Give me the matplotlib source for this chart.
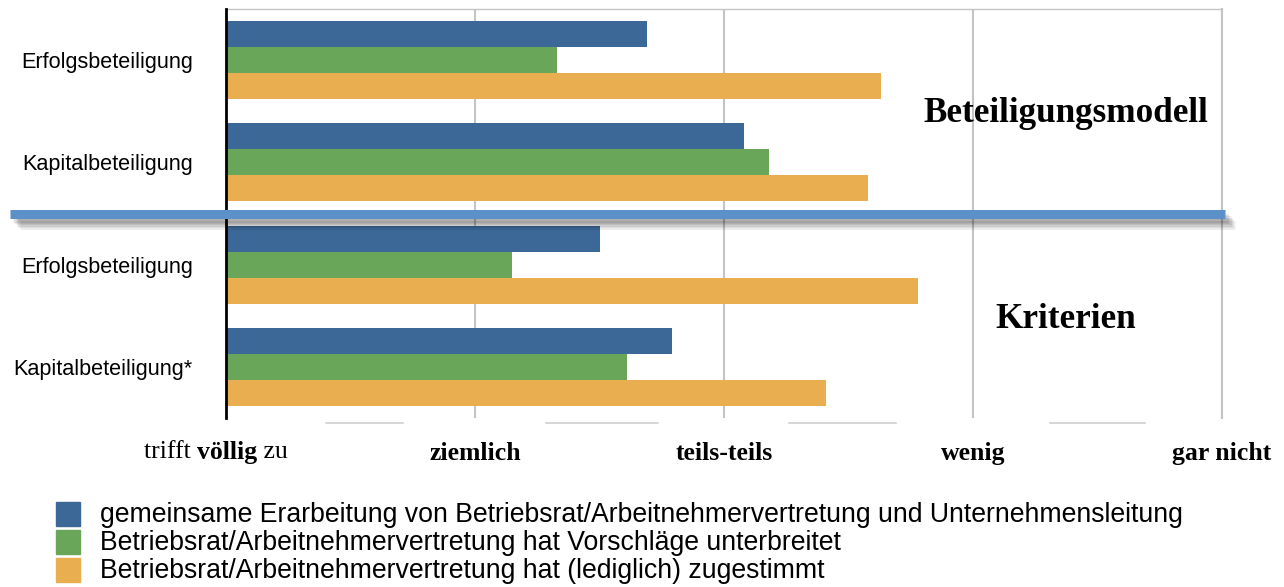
import matplotlib
matplotlib.use("Agg")
import matplotlib.pyplot as plt
import matplotlib.patheffects as pe
import matplotlib.transforms as mtransforms
from matplotlib.patches import Rectangle
import numpy as np

# ---- data -------------------------------------------------------------
categories = ["Erfolgsbeteiligung", "Kapitalbeteiligung",
              "Erfolgsbeteiligung", "Kapitalbeteiligung*"]
gemeinsam = [2.69, 3.08, 2.50, 2.79]      # gemeinsame Erarbeitung
vorschlaege = [2.33, 3.18, 2.15, 2.61]    # Vorschläge unterbreitet
zugestimmt = [3.63, 3.58, 3.78, 3.41]     # (lediglich) zugestimmt
scale_ticks = [1, 2, 3, 4, 5]
scale_labels = ["trifft völlig zu", "ziemlich", "teils-teils", "wenig", "gar nicht"]
series_labels = [
    "gemeinsame Erarbeitung von Betriebsrat/Arbeitnehmervertretung und Unternehmensleitung",
    "Betriebsrat/Arbeitnehmervertretung hat Vorschläge unterbreitet",
    "Betriebsrat/Arbeitnehmervertretung hat (lediglich) zugestimmt",
]
section_labels = ["Beteiligungsmodell", "Kriterien"]

# ---- style --------------------------------------------------------------
colors = ["#3b6896", "#6aa659", "#e8ae50"]
W, H = 1284, 587
SANS = ["Liberation Sans", "DejaVu Sans"]
SERIF = ["Liberation Serif", "DejaVu Serif"]


def fx(px):
    return px / W


def fy(py):
    return 1 - py / H


fig = plt.figure(figsize=(W / 100, H / 100), dpi=100)
ax = fig.add_axes([fx(226), fy(418), fx(1222) - fx(226), fy(9) - fy(418)])

y = np.arange(len(categories))
bh = 0.254
for k, (vals, col) in enumerate(zip([gemeinsam, vorschlaege, zugestimmt], colors)):
    vals = np.asarray(vals)
    ax.barh(y + (k - 1) * bh, vals - 1, left=1, height=bh, color=col,
            edgecolor="none", zorder=3)

ax.set_xlim(1, 5)
ax.set_ylim(len(categories) - 0.5, -0.5)

# vertical grid
ax.set_xticks(scale_ticks)
ax.grid(axis="x", color="#c4c4c4", linewidth=1.5, zorder=1)
ax.tick_params(axis="both", length=0)
ax.set_xticklabels([""] + scale_labels[1:], fontfamily=SERIF,
                   fontweight="bold", fontsize=18.5)
ax.tick_params(axis="x", pad=17)

ax.set_yticks(y)
ax.set_yticklabels(categories, fontfamily=SANS, fontsize=15.6)
ax.tick_params(axis="y", pad=24)

for side in ["top", "right"]:
    ax.spines[side].set_color("#c4c4c4")
ax.spines["top"].set_linewidth(1.0)
ax.spines["right"].set_linewidth(1.5)
ax.spines["bottom"].set_visible(False)
ax.spines["left"].set_color("black")
ax.spines["left"].set_linewidth(2)
ax.spines["left"].set_zorder(5)

# faint segments just below the plot area
seg_tr = mtransforms.blended_transform_factory(ax.transData, fig.transFigure)
for x0, x1 in [(1.40, 1.71), (2.285, 2.735), (3.26, 3.69), (4.31, 4.69)]:
    ax.plot([x0, x1], [fy(423), fy(423)], color="#d0d0d0", linewidth=1.2,
            transform=seg_tr, clip_on=False)

# first scale label with bold middle word
fig.canvas.draw()
renderer = fig.canvas.get_renderer()
lab_tr = mtransforms.blended_transform_factory(ax.transData, fig.transFigure)
parts = [("trifft ", "normal"), ("völlig", "bold"), (" zu", "normal")]
texts = []
for s, w in parts:
    t = ax.text(1, fy(452), s, fontfamily=SERIF, fontweight=w, fontsize=18.5,
                ha="left", va="center", transform=lab_tr, clip_on=False)
    texts.append(t)
widths = [t.get_window_extent(renderer).width for t in texts]
total = sum(widths)
x_cursor = -total / 2 - 10
for t, wd in zip(texts, widths):
    t.set_transform(lab_tr + mtransforms.ScaledTranslation(x_cursor / 100, 0, fig.dpi_scale_trans))
    x_cursor += wd

# separator between the two sections
sep_tr = mtransforms.blended_transform_factory(fig.transFigure, ax.transData)
shadows = [pe.SimpleLineShadow(offset=(2 + i, -3 - i), shadow_color="black",
                               alpha=0.07) for i in range(6)]
ax.plot([fx(10), fx(1225)], [1.5, 1.5], color="#5b90c8", linewidth=6.5,
        solid_capstyle="butt", transform=sep_tr, clip_on=False, zorder=6,
        path_effects=shadows + [pe.Normal()])

# section titles
fig.text(fx(1066), fy(114), section_labels[0], fontfamily=SERIF,
         fontweight="bold", fontsize=25.3, ha="center", va="center")
fig.text(fx(1066), fy(319), section_labels[1], fontfamily=SERIF,
         fontweight="bold", fontsize=25.3, ha="center", va="center")

# legend
for i, (lab, col) in enumerate(zip(series_labels, colors)):
    cy = 514 + 28 * i
    fig.add_artist(Rectangle((fx(56), fy(cy + 12)), fx(24), 24 / H,
                             transform=fig.transFigure, color=col))
    fig.text(fx(100), fy(cy + 1), lab, fontfamily=SANS, fontsize=19.2,
             ha="left", va="center")

fig.savefig("out.png", dpi=100)
